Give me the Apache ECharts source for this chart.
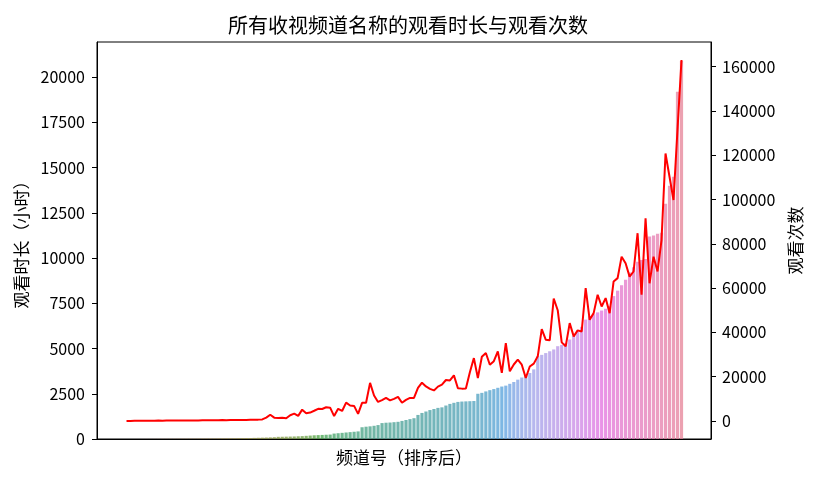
<!DOCTYPE html>
<html lang="zh">
<head>
<meta charset="UTF-8">
<title>所有收视频道名称的观看时长与观看次数</title>
<script src="https://cdn.jsdelivr.net/npm/echarts@6/dist/echarts.min.js"></script>
<style>
  html, body { margin: 0; padding: 0; background: #fff; }
  #main { width: 816px; height: 478px; }
</style>
</head>
<body>
<div id="main"></div>
<script>
// 观看时长（小时），按升序排列
var hoursData = [
  0.5, 1, 1, 1.5, 2, 2.5, 3, 4, 5, 6, 7, 8, 9, 10, 11, 12, 14, 15, 17, 19, 21, 23, 25,
  28, 30, 33, 36, 40, 44, 48, 52, 57, 62, 68, 75, 82, 90, 100,
  120, 125, 130, 135, 140, 150, 160, 175, 190, 205, 215, 225, 235, 245, 300, 320, 340, 360, 380, 400, 420,
  650, 680, 700, 730, 770, 880, 900, 910, 930, 950, 1000, 1050, 1100, 1150, 1330, 1440, 1520, 1600, 1660, 1720,
  1750, 1850, 1940, 2000, 2050, 2070, 2080, 2090, 2100, 2500, 2550, 2630, 2700, 2760, 2830, 2900, 2950, 3050, 3150, 3280,
  3400, 3500, 3650, 3850, 4570, 4650, 4750, 4850, 4950, 5130, 5200, 5300, 5500, 5700, 6000, 6200, 6600, 6800, 6900, 7000,
  7100, 7200, 7350, 7900, 8200, 8500, 8800, 9200, 9500, 9800, 9900, 9950, 11200, 11250, 11350, 11400, 13000, 14000, 14500, 19200, 20900
];
// 观看次数
var countData = [
  0, 30, 60, 40, 80, 100, 90, 120, 150, 130, 160, 180, 170, 200, 230, 210, 250, 260, 240, 280,
  300, 330, 310, 350, 380, 360, 400, 430, 450, 480, 460, 520, 560, 600,
  700, 1500, 2800, 1500, 1300, 1400, 1200, 2600, 3300, 2300, 5100, 3500, 3800, 4600, 5500, 5400,
  6200, 6000, 2200, 5500, 4500, 8300, 7000, 6800, 3200,
  8200, 8200, 17200, 11500, 8600, 9400, 10400, 9300, 10000, 10900, 8200, 9500, 10400, 10400,
  14900, 17300, 15600, 14500, 13800, 15500, 16400, 18500, 18300, 20600, 14800, 14600, 14700,
  22000, 28400, 19400, 29000, 30700, 25400, 27000, 31400, 21700, 35200, 22400, 25500, 27700,
  25400, 19400, 24600, 25900, 29200, 41500, 36700, 36400, 55300, 50000, 35500, 33700,
  44200, 38200, 40900, 40400, 60000, 45700, 48700, 57000, 51700, 55500, 48700, 63000, 64500,
  74200, 71200, 65200, 67500, 84800, 57000, 91500, 62200, 74200, 67500, 81700,
  120800, 110300, 99800, 131500, 163000
];
var leftTicks = [0, 2500, 5000, 7500, 10000, 12500, 15000, 17500, 20000];
var rightTicks = [0, 20000, 40000, 60000, 80000, 100000, 120000, 140000, 160000];

// husl 调色板（同 seaborn 的 husl_palette，再降低饱和度）
var M = [[3.2406, -1.5372, -0.4986], [-0.9689, 1.8758, 0.0415], [0.0557, -0.2040, 1.0570]];
var refU = 0.19784, refV = 0.46834, labE = 0.008856, labK = 903.3;

function maxChroma(L, H) {
  var hrad = H / 360 * 2 * Math.PI, sinH = Math.sin(hrad), cosH = Math.cos(hrad);
  var sub1 = Math.pow(L + 16, 3) / 1560896;
  var sub2 = sub1 > labE ? sub1 : L / labK;
  var res = Infinity;
  M.forEach(function (row) {
    var top = (0.99915 * row[0] + 1.05122 * row[1] + 1.14460 * row[2]) * sub2;
    var rb = 0.86330 * row[2] - 0.17266 * row[1];
    var lb = 0.12949 * row[2] - 0.38848 * row[0];
    var bottom = (rb * sinH + lb * cosH) * sub2;
    [0, 1].forEach(function (t) {
      var C = L * (top - 1.05122 * t) / (bottom + 0.17266 * sinH * t);
      if (C > 0 && C < res) res = C;
    });
  });
  return res;
}
function fromLinear(c) {
  return c <= 0.0031308 ? 12.92 * c : 1.055 * Math.pow(c, 1 / 2.4) - 0.055;
}
function huslToRgb(H, S, L) {
  var C = maxChroma(L, H) / 100 * S;
  var hrad = H / 360 * 2 * Math.PI;
  var U = Math.cos(hrad) * C, V = Math.sin(hrad) * C;
  var t = (L + 16) / 116;
  var Y = Math.pow(t, 3) > labE ? Math.pow(t, 3) : (116 * t - 16) / labK;
  var vu = U / (13 * L) + refU, vv = V / (13 * L) + refV;
  var X = -(9 * Y * vu) / ((vu - 4) * vv - vu * vv);
  var Z = (9 * Y - 15 * vv * Y - vv * X) / (3 * vv);
  return M.map(function (r) {
    var c = fromLinear(r[0] * X + r[1] * Y + r[2] * Z);
    return Math.min(1, Math.max(0, c));
  });
}
function rgbToHls(r, g, b) {
  var mx = Math.max(r, g, b), mn = Math.min(r, g, b), l = (mx + mn) / 2, h = 0, s = 0;
  if (mx !== mn) {
    var d = mx - mn;
    s = l <= 0.5 ? d / (mx + mn) : d / (2 - mx - mn);
    if (mx === r) h = ((g - b) / d) / 6;
    else if (mx === g) h = (2 + (b - r) / d) / 6;
    else h = (4 + (r - g) / d) / 6;
    h = (h + 1) % 1;
  }
  return [h, l, s];
}
function hueV(m1, m2, h) {
  h = (h + 1) % 1;
  if (h < 1 / 6) return m1 + (m2 - m1) * h * 6;
  if (h < 0.5) return m2;
  if (h < 2 / 3) return m1 + (m2 - m1) * (2 / 3 - h) * 6;
  return m1;
}
function hlsToRgb(h, l, s) {
  if (s === 0) return [l, l, l];
  var m2 = l <= 0.5 ? l * (1 + s) : l + s - l * s, m1 = 2 * l - m2;
  return [hueV(m1, m2, h + 1 / 3), hueV(m1, m2, h), hueV(m1, m2, h - 1 / 3)];
}
var n = hoursData.length;
var palette = [];
for (var i = 0; i < n; i++) {
  var hue = ((i / n + 0.01) % 1) * 359;
  var rgb = huslToRgb(hue, 0.9 * 99, 0.65 * 99);
  var hls = rgbToHls(rgb[0], rgb[1], rgb[2]);
  rgb = hlsToRgb(hls[0], hls[1], hls[2] * 0.75);
  palette.push('rgba(' + rgb.map(function (c) { return Math.round(c * 255); }).join(',') + ',0.75)');
}

var barSeries = hoursData.map(function (v, i) { return [i, v]; });
var lineSeries = countData.map(function (v, i) { return [i, v]; });

// 坐标范围：两端各留 5% 的边距
var cMin = Math.min.apply(null, countData), cMax = Math.max.apply(null, countData);
var cPad = (cMax - cMin) * 0.05;
var hMax = Math.max.apply(null, hoursData) * 1.05;
var xPad = (n - 0.2) * 0.05;

var font = '"Noto Sans CJK SC", sans-serif';
function plain(v) { return String(v); }

var chart = echarts.init(document.getElementById('main'));
chart.setOption({
  animation: false,
  title: {
    text: '所有收视频道名称的观看时长与观看次数',
    left: 'center',
    top: 10,
    textStyle: { fontFamily: font, fontSize: 20, fontWeight: 'normal', color: '#000' }
  },
  grid: {
    left: 97, right: 105, top: 42, bottom: 39,
    show: true, borderColor: '#000', borderWidth: 1
  },
  xAxis: {
    type: 'value',
    min: -0.4 - xPad,
    max: n - 0.6 + xPad,
    name: '频道号（排序后）',
    nameLocation: 'middle',
    nameGap: 10,
    nameTextStyle: { fontFamily: font, fontSize: 17, color: '#000' },
    axisLine: { show: true, onZero: false, lineStyle: { color: '#000' } },
    axisTick: { show: false },
    axisLabel: { show: false },
    splitLine: { show: false }
  },
  yAxis: [{
    type: 'value',
    position: 'left',
    min: 0,
    max: hMax,
    name: '观看时长（小时）',
    nameLocation: 'middle',
    nameRotate: 90,
    nameGap: 66,
    nameTextStyle: { fontFamily: font, fontSize: 17, color: '#000' },
    axisLine: { show: true, onZero: false, lineStyle: { color: '#000' } },
    axisTick: { show: true, length: 5, lineStyle: { color: '#000' }, customValues: leftTicks },
    axisLabel: { fontFamily: font, fontSize: 16, color: '#000', margin: 12, customValues: leftTicks, formatter: plain },
    splitLine: { show: false }
  }, {
    type: 'value',
    position: 'right',
    min: cMin - cPad,
    max: cMax + cPad,
    name: '观看次数',
    nameLocation: 'middle',
    nameRotate: 90,
    nameGap: 76,
    nameTextStyle: { fontFamily: font, fontSize: 17, color: '#000' },
    axisLine: { show: true, onZero: false, lineStyle: { color: '#000' } },
    axisTick: { show: true, length: 5, lineStyle: { color: '#000' }, customValues: rightTicks },
    axisLabel: { fontFamily: font, fontSize: 16, color: '#000', margin: 11, customValues: rightTicks, formatter: plain },
    splitLine: { show: false }
  }],
  series: [{
    name: '观看时长',
    type: 'bar',
    yAxisIndex: 0,
    barWidth: 3.2,
    data: barSeries,
    itemStyle: {
      color: function (p) { return palette[p.dataIndex]; }
    }
  }, {
    name: '观看次数',
    type: 'line',
    yAxisIndex: 1,
    data: lineSeries,
    showSymbol: false,
    lineStyle: { color: '#ff0000', width: 2 },
    z: 5
  }]
});
</script>
</body>
</html>
